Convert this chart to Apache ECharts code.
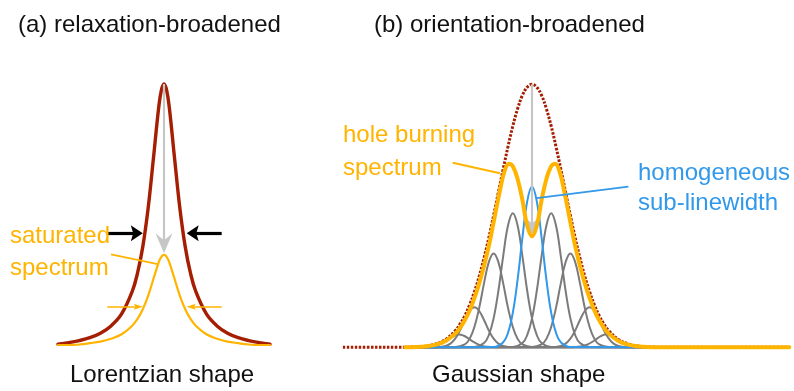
<!DOCTYPE html>
<html>
<head>
<meta charset="utf-8">
<script src="https://cdn.jsdelivr.net/npm/echarts@6/dist/echarts.min.js"></script>
<style>
  html, body { margin: 0; padding: 0; background: #ffffff; }
  #chart { width: 794px; height: 391px; }
</style>
</head>
<body>
<div id="chart"></div>
<script>
// ---------- (a) relaxation-broadened: Lorentzian lines ----------
const lorentzX = [-10, -9, -8, -7, -6, -5, -4, -3, -2.5, -2, -1.5, -1, -0.5, -0.25, 0,
                  0.25, 0.5, 1, 1.5, 2, 2.5, 3, 4, 5, 6, 7, 8, 9, 10];
const lorentzFull = [0.003, 0.009, 0.017, 0.028, 0.045, 0.073, 0.119, 0.205, 0.275, 0.377, 0.523, 0.714, 0.910, 0.976, 1,
                     0.976, 0.910, 0.714, 0.523, 0.377, 0.275, 0.205, 0.119, 0.073, 0.045, 0.028, 0.017, 0.009, 0.003];
const lorentzSaturated = [0, 0, 0.002, 0.007, 0.013, 0.024, 0.041, 0.074, 0.100, 0.137, 0.188, 0.253, 0.317, 0.338, 0.345,
                          0.338, 0.317, 0.253, 0.188, 0.137, 0.100, 0.074, 0.041, 0.024, 0.013, 0.007, 0.002, 0, 0];

// ---------- (b) orientation-broadened: Gaussian envelope ----------
const gaussX = [-9.85, -8, -7, -6, -5.5, -5, -4.5, -4, -3.75, -3.5, -3.25, -3, -2.75, -2.5, -2.25, -2, -1.75, -1.5, -1.25, -1, -0.75, -0.5, -0.25, 0,
                0.25, 0.5, 0.75, 1, 1.25, 1.5, 1.75, 2, 2.25, 2.5, 2.75, 3, 3.25, 3.5, 3.75, 4, 4.5, 5, 5.5, 6, 7, 8, 10, 13.4];
const gaussEnvelope = [0, 0, 0, 0.002, 0.005, 0.013, 0.030, 0.063, 0.088, 0.120, 0.161, 0.211, 0.270, 0.339, 0.416, 0.501, 0.589, 0.678, 0.763, 0.841, 0.907, 0.958, 0.989, 1,
                       0.989, 0.958, 0.907, 0.841, 0.763, 0.678, 0.589, 0.501, 0.416, 0.339, 0.270, 0.211, 0.161, 0.120, 0.088, 0.063, 0.030, 0.013, 0.005, 0.002, 0, 0, 0, 0];

// hole burning spectrum
const holeX = [-6.6, -6, -5.5, -5, -4.5, -4, -3.75, -3.5, -3.25, -3, -2.75, -2.5, -2.25, -2, -1.7, -1.45, -1.2, -1, -0.75, -0.5, -0.25, 0,
               0.25, 0.5, 0.75, 1, 1.2, 1.45, 1.7, 2, 2.25, 2.5, 2.75, 3, 3.25, 3.5, 3.75, 4, 4.5, 5, 5.5, 6, 6.6, 13.4];
const holeBurning = [0, 0.001, 0.004, 0.010, 0.024, 0.052, 0.074, 0.103, 0.140, 0.187, 0.243, 0.309, 0.385, 0.475, 0.585, 0.665, 0.698, 0.688, 0.640, 0.560, 0.462, 0.422,
                     0.462, 0.560, 0.640, 0.688, 0.698, 0.665, 0.585, 0.475, 0.385, 0.309, 0.243, 0.187, 0.140, 0.103, 0.074, 0.052, 0.024, 0.010, 0.004, 0.001, 0, 0];

// homogeneous sub-lines (sampled at offsets around each centre)
const subOffsets = [-2, -1.5, -1.25, -1, -0.75, -0.5, -0.25, 0, 0.25, 0.5, 0.75, 1, 1.25, 1.5, 2];
const subCentres = [-3.8, -3, -2, -1, 1, 2, 3, 3.9];
const subLines = [
  [0, 0.002, 0.004, 0.011, 0.021, 0.033, 0.044, 0.049, 0.044, 0.033, 0.021, 0.011, 0.004, 0.002, 0],
  [0, 0.005, 0.014, 0.033, 0.064, 0.104, 0.138, 0.152, 0.138, 0.104, 0.064, 0.033, 0.014, 0.005, 0],
  [0.001, 0.011, 0.032, 0.077, 0.150, 0.243, 0.324, 0.357, 0.324, 0.243, 0.150, 0.077, 0.032, 0.011, 0.001],
  [0.001, 0.016, 0.046, 0.110, 0.215, 0.347, 0.463, 0.510, 0.463, 0.347, 0.215, 0.110, 0.046, 0.016, 0.001],
  [0.001, 0.016, 0.046, 0.110, 0.215, 0.347, 0.463, 0.510, 0.463, 0.347, 0.215, 0.110, 0.046, 0.016, 0.001],
  [0.001, 0.011, 0.032, 0.077, 0.150, 0.243, 0.324, 0.357, 0.324, 0.243, 0.150, 0.077, 0.032, 0.011, 0.001],
  [0, 0.005, 0.014, 0.033, 0.064, 0.104, 0.138, 0.152, 0.138, 0.104, 0.064, 0.033, 0.014, 0.005, 0],
  [0, 0.002, 0.005, 0.011, 0.021, 0.034, 0.045, 0.050, 0.045, 0.034, 0.021, 0.011, 0.005, 0.002, 0]
];
const burnedCentre = 0;
const burnedLine = [0.001, 0.019, 0.055, 0.131, 0.257, 0.416, 0.555, 0.611, 0.555, 0.416, 0.257, 0.131, 0.055, 0.019, 0.001];
const spanB = [-6.6, 13.4];

// ---------- annotation anchors (data units) ----------
const arrowA = {
  drop:  { from: [0, 1.0],     to: [0, 0.352] },
  pinchL:{ from: [-5.4, 0.428], to: [-2.0, 0.428] },
  pinchR:{ from: [5.44, 0.428], to: [2.14, 0.428] },
  sideL: { from: [-5.35, 0.147], to: [-2.0, 0.147] },
  sideR: { from: [5.44, 0.147], to: [2.14, 0.147] },
  leader:{ from: [-5.0, 0.3475], to: [-0.594, 0.31] }
};
const arrowB = {
  drop:   { from: [0, 1.0], to: [0, 0.427] },
  leaderHole: { from: [-4.13, 0.702], to: [-1.67, 0.662] },
  leaderSub:  { from: [0.245, 0.567], to: [5.02, 0.611] }
};

// ---------- styling ----------
const RED = '#A51E02', GOLD = '#FFB400', BLUE = '#3198EA', GREY = '#7B7B7B', LIGHT = '#C6C6C6';
const FONT = '"Liberation Sans", Arial, Helvetica, sans-serif';

const GRID_A = { left: 58, width: 212, top: 84, height: 261, xmin: -10, xmax: 10 };
const GRID_B = { left: 340, width: 451.2, top: 84.3, height: 263, xmin: -10, xmax: 13.5 };
const pxPer = g => ({ x: g.width / (g.xmax - g.xmin), y: g.height });

const pairs = (xs, ys) => xs.map((x, i) => [x, ys[i]]);

// shaft that stops a few pixels short of the tip so the head keeps a sharp point
function shaft(grid, a, trimPx, color, width) {
  const s = pxPer(grid);
  const dx = (a.to[0] - a.from[0]) * s.x, dy = (a.to[1] - a.from[1]) * s.y;
  const k = trimPx / Math.hypot(dx, dy);
  const end = [a.to[0] - (a.to[0] - a.from[0]) * k, a.to[1] - (a.to[1] - a.from[1]) * k];
  return [{ coord: a.from, lineStyle: { color, width, type: 'solid', cap: 'butt' } }, { coord: end }];
}
function leader(a, color, width) {
  return [{ coord: a.from, lineStyle: { color, width, type: 'solid' } }, { coord: a.to }];
}
const HEAD = 'path://M0,0L10,20L0,16L-10,20Z';
const HEAD_V = 'path://M0,0L10,20L0,13L-10,20Z';
function head(at, dir, w, len, color, path) {
  const rot = { down: 180, right: -90, left: 90 }[dir];
  const off = { down: [0, -len / 2], right: [-len / 2, 0], left: [len / 2, 0] }[dir];
  return { coord: at, symbol: path || HEAD, symbolSize: [w, len], symbolRotate: rot, symbolOffset: off,
           itemStyle: { color }, label: { show: false } };
}

const baseLine = (name, xi, data, color, width, z, extra) => Object.assign({
  name, type: 'line', xAxisIndex: xi, yAxisIndex: xi, data, smooth: 0.4, showSymbol: false,
  symbol: 'none', clip: false, z, silent: true,
  lineStyle: { color, width, cap: 'round', join: 'round' }
}, extra || {});

const series = [];

// panel (a)
series.push(baseLine('full', 0, pairs(lorentzX, lorentzFull), RED, 3.4, 2));
series.push(baseLine('saturated', 0, pairs(lorentzX, lorentzSaturated), GOLD, 2.2, 3));
series.push({
  name: 'annotA', type: 'line', xAxisIndex: 0, yAxisIndex: 0, data: [], silent: true,
  markLine: {
    silent: true, symbol: ['none', 'none'], label: { show: false }, z: 5, animation: false,
    data: [
      shaft(GRID_A, arrowA.drop, 6, LIGHT, 2.2),
      shaft(GRID_A, arrowA.pinchL, 5, '#000000', 3.2),
      shaft(GRID_A, arrowA.pinchR, 5, '#000000', 3.2),
      shaft(GRID_A, arrowA.sideL, 4, GOLD, 1.5),
      shaft(GRID_A, arrowA.sideR, 4, GOLD, 1.5),
      leader(arrowA.leader, GOLD, 1.8)
    ]
  },
  markPoint: {
    silent: true, z: 5, animation: false,
    data: [
      head(arrowA.drop.to, 'down', 17, 20, LIGHT, HEAD_V),
      head(arrowA.pinchL.to, 'right', 16, 12, '#000000'),
      head(arrowA.pinchR.to, 'left', 16, 12, '#000000'),
      head(arrowA.sideL.to, 'right', 6, 9, GOLD),
      head(arrowA.sideR.to, 'left', 6, 9, GOLD)
    ]
  }
});

// panel (b)
subLines.forEach((ys, i) => {
  const pts = [[spanB[0], 0]].concat(subOffsets.map((o, j) => [subCentres[i] + o, ys[j]]), [[spanB[1], 0]]);
  series.push(baseLine('sub' + i, 1, pts, GREY, 2, 2));
});
series.push(baseLine('burned', 1,
  [[spanB[0], 0]].concat(subOffsets.map((o, j) => [burnedCentre + o, burnedLine[j]]), [[spanB[1], 0]]),
  BLUE, 2, 3));
series.push(baseLine('envelope', 1, pairs(gaussX, gaussEnvelope), RED, 3, 4,
  { lineStyle: { color: RED, width: 3, type: [2.5, 1.5], cap: 'butt' } }));
series.push({
  name: 'annotB', type: 'line', xAxisIndex: 1, yAxisIndex: 1, data: [], silent: true,
  markLine: {
    silent: true, symbol: ['none', 'none'], label: { show: false }, z: 5, animation: false,
    data: [ shaft(GRID_B, arrowB.drop, 6, LIGHT, 2.2) ]
  },
  markPoint: {
    silent: true, z: 5, animation: false,
    data: [ head(arrowB.drop.to, 'down', 16, 18, LIGHT, HEAD_V) ]
  }
});
series.push(baseLine('hole', 1, pairs(holeX, holeBurning), GOLD, 4, 6));
series.push({
  name: 'leadersB', type: 'line', xAxisIndex: 1, yAxisIndex: 1, data: [], silent: true,
  markLine: {
    silent: true, symbol: ['none', 'none'], label: { show: false }, z: 7, animation: false,
    data: [ leader(arrowB.leaderHole, GOLD, 2), leader(arrowB.leaderSub, BLUE, 1.8) ]
  }
});

const txt = (text, x, y, color, lineHeight) => ({
  type: 'text', x, y, silent: true, z: 10,
  style: { text, fill: color, fontSize: 24, fontFamily: FONT, lineHeight: lineHeight || 24,
           align: 'left', verticalAlign: 'top' }
});

const chart = echarts.init(document.getElementById('chart'), null, { renderer: 'canvas' });
chart.setOption({
  animation: false,
  backgroundColor: '#ffffff',
  grid: [
    { left: GRID_A.left, width: GRID_A.width, top: GRID_A.top, height: GRID_A.height },
    { left: GRID_B.left, width: GRID_B.width, top: GRID_B.top, height: GRID_B.height }
  ],
  xAxis: [
    { type: 'value', gridIndex: 0, min: GRID_A.xmin, max: GRID_A.xmax, show: false },
    { type: 'value', gridIndex: 1, min: GRID_B.xmin, max: GRID_B.xmax, show: false }
  ],
  yAxis: [
    { type: 'value', gridIndex: 0, min: 0, max: 1, show: false },
    { type: 'value', gridIndex: 1, min: 0, max: 1, show: false }
  ],
  series,
  graphic: [
    txt('(a) relaxation-broadened', 18, 13, '#111111'),
    txt('(b) orientation-broadened', 374, 13, '#111111'),
    txt('Lorentzian shape', 70, 363.5, '#111111'),
    txt('Gaussian shape', 432, 363.5, '#111111'),
    txt('saturated\nspectrum', 10, 221, GOLD, 31.7),
    txt('hole burning\nspectrum', 343, 119.4, GOLD, 32.7),
    txt('homogeneous\nsub-linewidth', 638, 158.4, BLUE, 30)
  ]
});
</script>
</body>
</html>
